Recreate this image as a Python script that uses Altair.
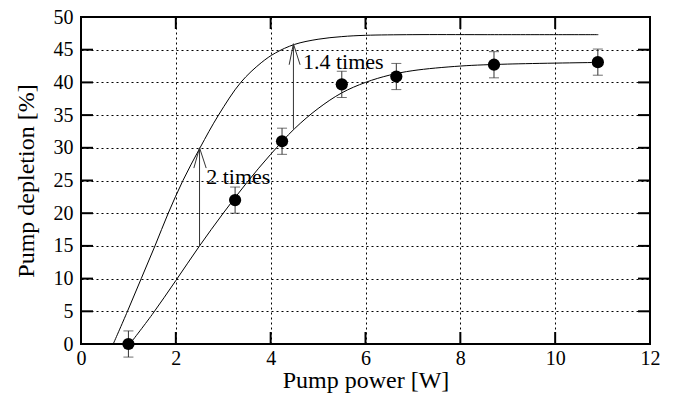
import altair as alt
import pandas as pd

# measured data
pump_power = [1.0, 3.25, 4.24, 5.5, 6.65, 8.71, 10.9]
depletion = [0.0, 22.0, 31.0, 39.7, 40.9, 42.7, 43.1]
err = [2.0, 2.0, 2.0, 2.0, 2.0, 2.0, 2.0]

# fitted curve (lower)
fit_x = [1.03, 1.5, 2.0, 2.5, 3.0, 3.5, 4.0, 4.5, 5.0, 5.5, 6.0, 6.5, 7.0, 8.0, 9.0, 10.9]
fit_y = [0.0, 4.5, 9.7, 15.0, 20.0, 24.7, 29.0, 32.9, 36.0, 38.4, 40.0, 41.1, 41.8, 42.5, 42.8, 43.05]

# upper curve
up_x = [0.68, 0.98, 1.27, 1.56, 1.84, 2.15, 2.51, 2.90, 3.37, 3.8, 4.1, 4.5, 5.0, 5.5, 6.0, 7.0, 8.5, 10.91]
up_y = [0.0, 5.0, 10.0, 15.0, 20.0, 25.0, 30.0, 35.0, 40.0, 43.0, 44.5, 45.8, 46.6, 47.0, 47.2, 47.3, 47.3, 47.3]

# annotations: arrows (x, from, to) and labels
arrow_x = [2.5, 4.48]
arrow_from = [15.0, 32.9]
arrow_to = [30.0, 45.9]
head_dx_left = [-0.12, -0.09]
head_dx_right = [0.14, 0.14]
head_dy = [3.1, 3.2]
label_text = ["2 times", "1.4 times"]
label_x = [2.64, 4.68]
label_y = [24.4, 42.1]

x_ticks = [0, 2, 4, 6, 8, 10, 12]
y_ticks = [0, 5, 10, 15, 20, 25, 30, 35, 40, 45, 50]

W, H = 569, 327
FONT = "Liberation Serif"

xs = alt.Scale(domain=[0, 12], nice=False, zero=False)
ys = alt.Scale(domain=[0, 50], nice=False, zero=False)
xaxis = alt.Axis(values=x_ticks, title="Pump power [W]", grid=True, ticks=False, domain=False,
                 labelFlush=False, labelPadding=4, titlePadding=0)
yaxis = alt.Axis(values=y_ticks, title="Pump depletion [%]", grid=True, ticks=False, domain=False,
                 labelFlush=False, labelPadding=8, titlePadding=15)
X = alt.X("x:Q", scale=xs, axis=xaxis)
Y = alt.Y("y:Q", scale=ys, axis=yaxis)

df_pts = pd.DataFrame({"x": pump_power, "y": depletion,
                       "lo": [d - e for d, e in zip(depletion, err)],
                       "hi": [d + e for d, e in zip(depletion, err)]})
df_fit = pd.DataFrame({"x": fit_x, "y": fit_y})
df_up = pd.DataFrame({"x": up_x, "y": up_y})

shafts = pd.DataFrame({"x": arrow_x, "y": arrow_from, "y2": arrow_to})
heads = pd.DataFrame({
    "x": arrow_x + arrow_x,
    "y": arrow_to + arrow_to,
    "x2": [a + d for a, d in zip(arrow_x, head_dx_left)] + [a + d for a, d in zip(arrow_x, head_dx_right)],
    "y2": [t - d for t, d in zip(arrow_to, head_dy)] * 2,
})
labels = pd.DataFrame({"x": label_x, "y": label_y, "t": label_text})

up_line = alt.Chart(df_up).mark_line(color="black", strokeWidth=1, interpolate="catmull-rom").encode(x=X, y=Y)
fit_line = alt.Chart(df_fit).mark_line(color="black", strokeWidth=1, interpolate="catmull-rom").encode(x=X, y=Y)

shaft = alt.Chart(shafts).mark_rule(color="#333", strokeWidth=1).encode(x=X, y=Y, y2="y2:Q")
head = alt.Chart(heads).mark_rule(color="#333", strokeWidth=1).encode(x=X, y=Y, x2="x2:Q", y2="y2:Q")
txt = alt.Chart(labels).mark_text(align="left", baseline="alphabetic", font=FONT, fontSize=22,
                                  color="black").encode(x=X, y=Y, text="t:N")

ebar = alt.Chart(df_pts).mark_rule(color="#333", strokeWidth=1).encode(
    x=X, y=alt.Y("lo:Q", scale=ys, axis=yaxis), y2="hi:Q")
cap_lo = alt.Chart(df_pts).mark_tick(color="#333", orient="horizontal", size=10, thickness=1).encode(
    x=X, y=alt.Y("lo:Q", scale=ys, axis=yaxis))
cap_hi = alt.Chart(df_pts).mark_tick(color="#333", orient="horizontal", size=10, thickness=1).encode(
    x=X, y=alt.Y("hi:Q", scale=ys, axis=yaxis))
pts = alt.Chart(df_pts).mark_circle(color="black", size=150, opacity=1).encode(x=X, y=Y)

# inward ticks on all four sides
df_xt = pd.DataFrame({"x": x_ticks[1:-1]})
df_yt = pd.DataFrame({"y": y_ticks[1:-1]})
tb = alt.Chart(df_xt).mark_rule(color="black", strokeWidth=2).encode(x=X, y=alt.value(H), y2=alt.value(H - 12))
tt = alt.Chart(df_xt).mark_rule(color="black", strokeWidth=2).encode(x=X, y=alt.value(0), y2=alt.value(12))
tl = alt.Chart(df_yt).mark_rule(color="black", strokeWidth=2).encode(y=Y, x=alt.value(0), x2=alt.value(12))
tr = alt.Chart(df_yt).mark_rule(color="black", strokeWidth=2).encode(y=Y, x=alt.value(W - 12), x2=alt.value(W))

chart = alt.layer(up_line, fit_line, shaft, head, ebar, cap_lo, cap_hi, pts, txt, tb, tt, tl, tr).properties(
    width=W, height=H,
    autosize=alt.AutoSizeParams(type="none"),
    padding={"left": 73, "top": 9, "right": 10, "bottom": 50},
    background="white",
).configure_view(stroke="black", strokeWidth=2).configure_axis(
    labelFont=FONT, labelFontSize=20, labelColor="black",
    titleFont=FONT, titleFontSize=24, titleFontWeight="normal", titleColor="black",
    gridColor="black", gridOpacity=1, gridWidth=1, gridDash=[2, 3],
)

chart.save("out.html", embed_options={"renderer": "svg", "actions": False})
